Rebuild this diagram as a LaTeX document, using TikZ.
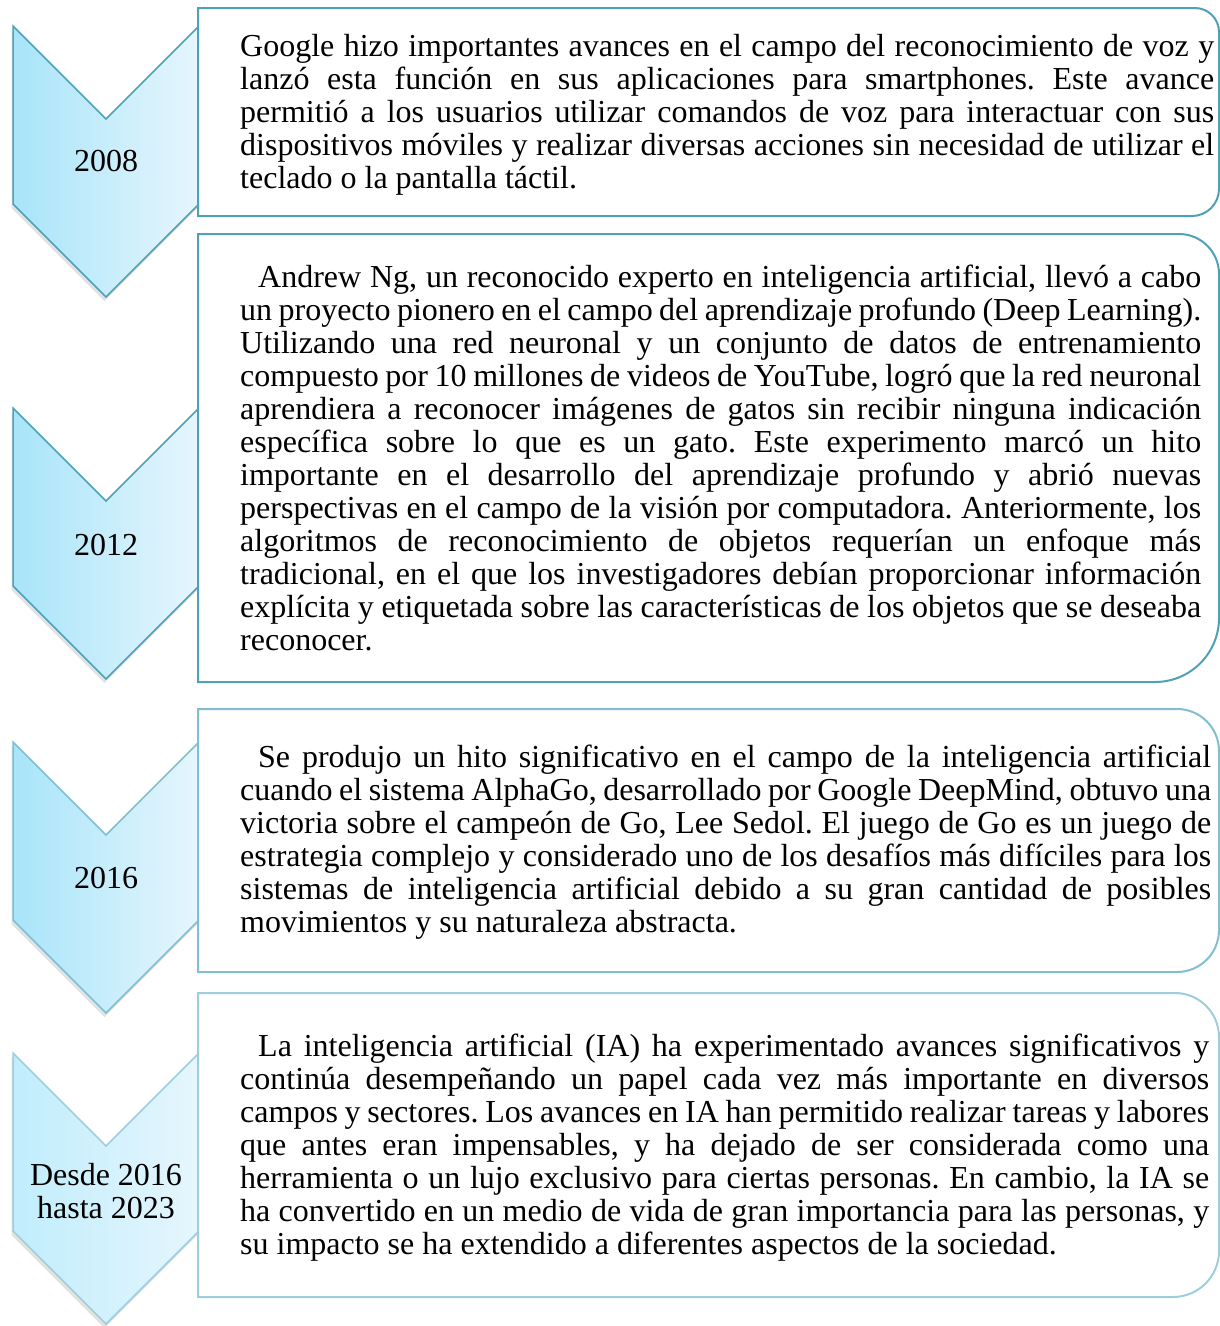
\documentclass[tikz,border=0pt]{standalone}
\usepackage{fontspec}
\setmainfont{Liberation Serif}
\usetikzlibrary{shadows}

\definecolor{linedark}{RGB}{78,161,183}
\definecolor{linemid}{RGB}{128,191,210}
\definecolor{linelight}{RGB}{158,206,222}
\definecolor{cyanleft}{RGB}{168,228,249}
\definecolor{cyanpale}{RGB}{192,237,252}
\definecolor{cyanright}{RGB}{230,246,253}

\begin{document}
\begin{tikzpicture}[x=1pt,y=-1pt,
    yearshape/.style={left color=cyanleft,right color=cyanright,line width=1.5pt,line join=miter,
      drop shadow={shadow xshift=-1.5pt,shadow yshift=-4pt,opacity=0.25,fill=black!45}},
    eventbox/.style={fill=white,line width=2pt},
    yeartext/.style={font=\fontsize{32}{33}\selectfont,align=center,inner sep=0pt},
    eventtext/.style={font=\fontsize{32}{33}\selectfont\frenchspacing,align=justify,inner sep=0pt,anchor=base west}]
    \useasboundingbox (0,0) rectangle (1220,1326);
    \tolerance=10000 \hyphenpenalty=10000

    % chevrons
    \draw[yearshape,draw=linedark] (13,26) -- (106,119) -- (199,26) -- (199,204) -- (106,297) -- (13,204) -- cycle;
    \draw[yearshape,draw=linedark] (13,408) -- (106,501) -- (199,408) -- (199,586) -- (106,679) -- (13,586) -- cycle;
    \draw[yearshape,draw=linemid] (13,742) -- (106,835) -- (199,742) -- (199,920) -- (106,1013) -- (13,920) -- cycle;
    \draw[yearshape,draw=linelight,left color=cyanpale] (13,1053) -- (106,1146) -- (199,1053) -- (199,1231) -- (106,1324) -- (13,1231) -- cycle;

    \node[yeartext] (y2008) at (106,161) {2008};
    \node[yeartext] (y2012) at (106,545) {2012};
    \node[yeartext] (y2016) at (106,878) {2016};
    \node[yeartext] (y2023) at (106,1191) {Desde 2016\\hasta 2023};

    % boxes
    \draw[eventbox,draw=linedark] (198,8) [rounded corners=24pt] -- (1219,8) [rounded corners=27pt] -- (1219,216) [sharp corners] -- (198,216) -- cycle;
    \draw[eventbox,draw=linedark] (198,234) [rounded corners=40pt] -- (1219,234) [rounded corners=64pt] -- (1219,682) [sharp corners] -- (198,682) -- cycle;
    \draw[eventbox,draw=linemid] (198,709) [rounded corners=42pt] -- (1219,709) [rounded corners=42pt] -- (1219,972) [sharp corners] -- (198,972) -- cycle;
    \draw[eventbox,draw=linelight] (198,993) [rounded corners=44pt] -- (1219,993) [rounded corners=46pt] -- (1219,1297) [sharp corners] -- (198,1297) -- cycle;

    % texts
    \node[eventtext,text width=974pt] (t2008) at (240,56) {Google hizo importantes avances en el campo del reconocimiento de voz y\linebreak
      lanzó esta función en sus aplicaciones para smartphones. Este avance\linebreak
      permitió a los usuarios utilizar comandos de voz para interactuar con sus\linebreak
      dispositivos móviles y realizar diversas acciones sin necesidad de utilizar el\linebreak
      teclado o la pantalla táctil.};
    \node[eventtext,text width=961pt] (t2012) at (240,287) {\hspace*{18pt}Andrew Ng, un reconocido experto en inteligencia artificial, llevó a cabo\linebreak
      un proyecto pionero en el campo del aprendizaje profundo (Deep Learning).\linebreak
      Utilizando una red neuronal y un conjunto de datos de entrenamiento\linebreak
      compuesto por 10 millones de videos de YouTube, logró que la red neuronal\linebreak
      aprendiera a reconocer imágenes de gatos sin recibir ninguna indicación\linebreak
      específica sobre lo que es un gato. Este experimento marcó un hito\linebreak
      importante en el desarrollo del aprendizaje profundo y abrió nuevas\linebreak
      perspectivas en el campo de la visión por computadora. Anteriormente, los\linebreak
      algoritmos de reconocimiento de objetos requerían un enfoque más\linebreak
      tradicional, en el que los investigadores debían proporcionar información\linebreak
      explícita y etiquetada sobre las características de los objetos que se deseaba\linebreak
      reconocer.};
    \node[eventtext,text width=971pt] (t2016) at (240,767) {\hspace*{18pt}Se produjo un hito significativo en el campo de la inteligencia artificial\linebreak
      cuando el sistema AlphaGo, desarrollado por Google DeepMind, obtuvo una\linebreak
      victoria sobre el campeón de Go, Lee Sedol. El juego de Go es un juego de\linebreak
      estrategia complejo y considerado uno de los desafíos más difíciles para los\linebreak
      sistemas de inteligencia artificial debido a su gran cantidad de posibles\linebreak
      movimientos y su naturaleza abstracta.};
    \node[eventtext,text width=969pt] (t2023) at (240,1056) {\hspace*{18pt}La inteligencia artificial (IA) ha experimentado avances significativos y\linebreak
      continúa desempeñando un papel cada vez más importante en diversos\linebreak
      campos y sectores. Los avances en IA han permitido realizar tareas y labores\linebreak
      que antes eran impensables, y ha dejado de ser considerada como una\linebreak
      herramienta o un lujo exclusivo para ciertas personas. En cambio, la IA se\linebreak
      ha convertido en un medio de vida de gran importancia para las personas, y\linebreak
      su impacto se ha extendido a diferentes aspectos de la sociedad.};
\end{tikzpicture}
\end{document}
